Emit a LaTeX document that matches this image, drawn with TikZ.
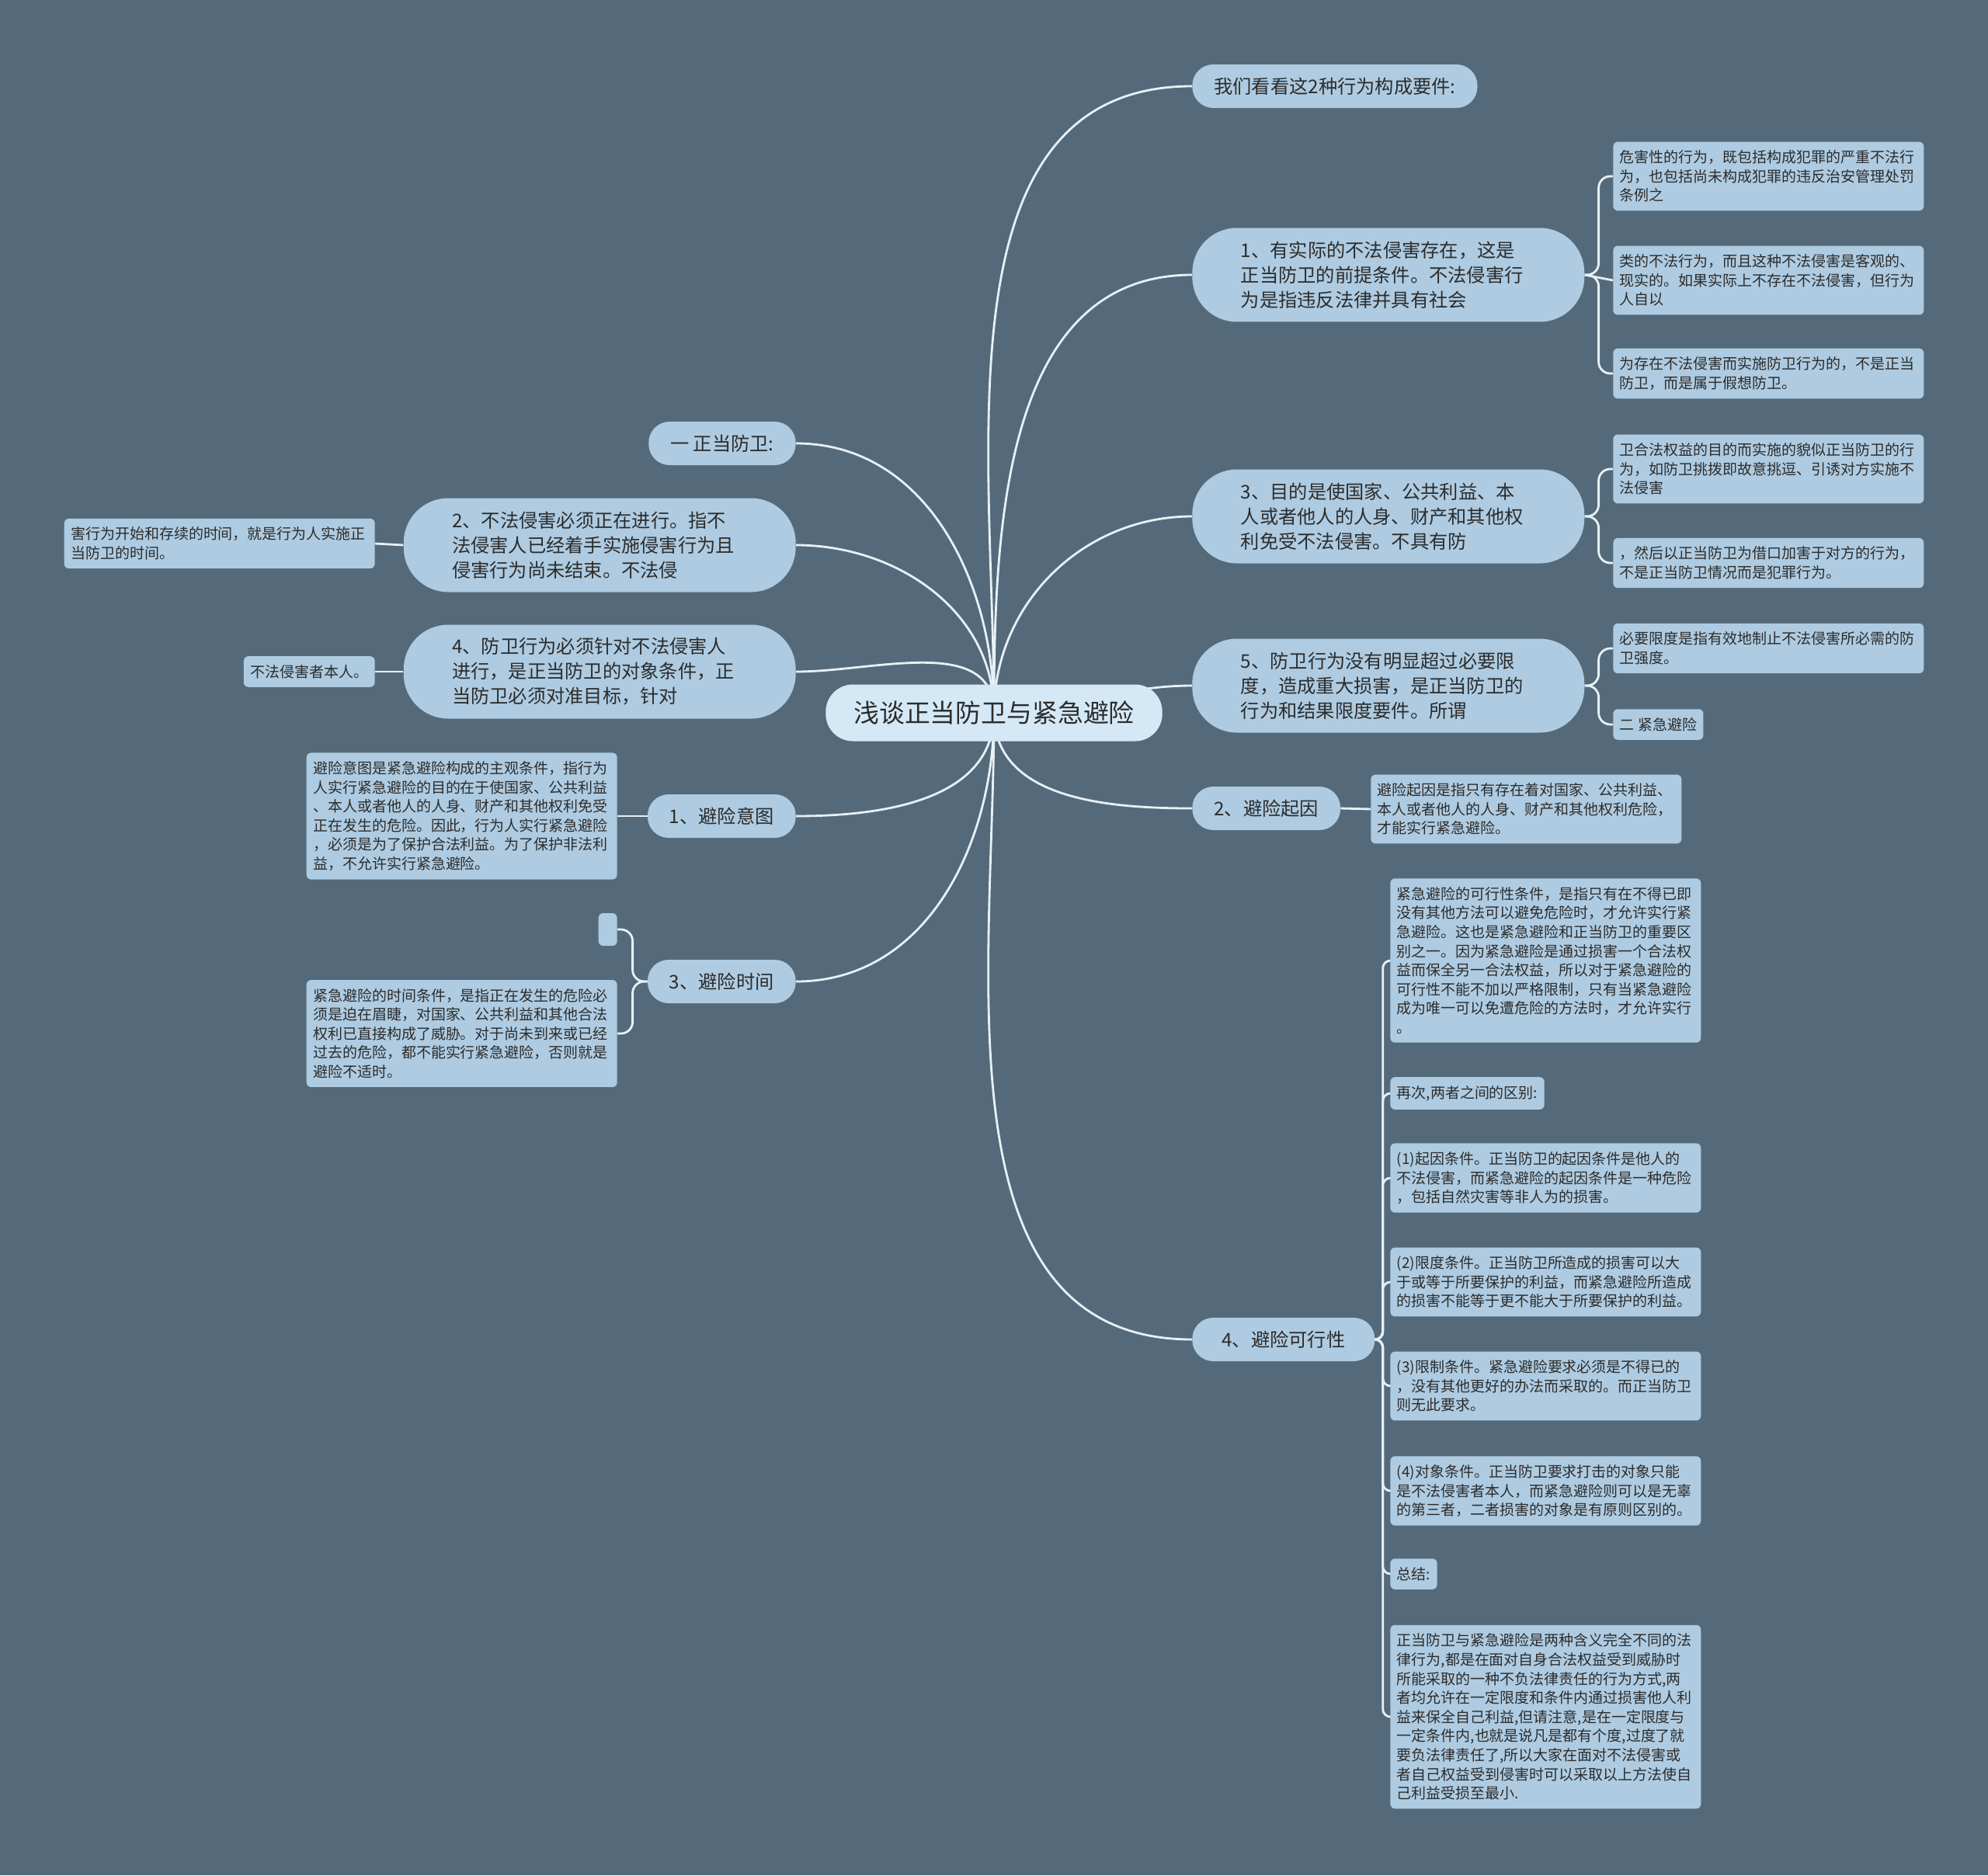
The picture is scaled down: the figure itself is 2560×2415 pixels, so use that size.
\documentclass[tikz,border=0pt]{standalone}
\usepackage{fontspec}
\setmainfont{Noto Sans CJK SC}
\usetikzlibrary{backgrounds}
\definecolor{MapBg}{HTML}{546A7A}
\definecolor{NodeBlue}{HTML}{AECBE1}
\definecolor{RootBlue}{HTML}{D4E9F5}
\definecolor{LinkWhite}{HTML}{E6F0F6}
\definecolor{InkGray}{HTML}{2C2C2C}

\begin{document}
\begin{tikzpicture}[x=0.02cm,y=-0.02cm,
    rootnode/.style={fill=RootBlue, rounded corners=0.7cm, minimum height=1.46cm, inner xsep=0.72cm, text=InkGray, font=\fontsize{18.7}{22}\selectfont},
    topic/.style={fill=NodeBlue, rounded corners=0.54cm, minimum height=1.12cm, inner xsep=0.56cm, text=InkGray, font=\fontsize{13.8}{18}\selectfont},
    bigtopic/.style={fill=NodeBlue, rounded corners=1.15cm, minimum height=2.42cm, text width=7.6cm, inner xsep=1.25cm, align=left, text=InkGray, font=\fontsize{13.8}{18.2}\selectfont},
    tag/.style={fill=NodeBlue, rounded corners=0.12cm, inner xsep=0.17cm, inner ysep=0.22cm, text=InkGray, font=\fontsize{10.8}{14}\selectfont},
    leaf/.style={tag, text width=7.66cm, align=left},
    link/.style={draw=LinkWhite, line width=1.6pt},
    twig/.style={link, rounded corners=0.3cm}]
    \useasboundingbox (0,0) rectangle (2560,2415);
    % centre
    \node[rootnode] (root) at (1280,918) {浅谈正当防卫与紧急避险};
    % right side
    \node[topic, anchor=west] (yj) at (1535,111) {我们看看这2种行为构成要件:};
    \node[bigtopic, anchor=west] (fw1) at (1535,354) {1、有实际的不法侵害存在，这是\\正当防卫的前提条件。不法侵害行\\为是指违反法律并具有社会};
    \node[bigtopic, anchor=west] (fw3) at (1535,665) {3、目的是使国家、公共利益、本\\人或者他人的人身、财产和其他权\\利免受不法侵害。不具有防};
    \node[bigtopic, anchor=west] (fw5) at (1535,883) {5、防卫行为没有明显超过必要限\\度，造成重大损害，是正当防卫的\\行为和结果限度要件。所谓};
    \node[topic, anchor=west] (bx2) at (1535,1041) {2、避险起因};
    \node[topic, anchor=west, minimum width=4.7cm] (bx4) at (1535,1725) {4、避险可行性};
    % left side
    \node[topic, anchor=east] (zd) at (1025,571) {一 正当防卫:};
    \node[bigtopic, anchor=east] (fw2) at (1025,702) {2、不法侵害必须正在进行。指不\\法侵害人已经着手实施侵害行为且\\侵害行为尚未结束。不法侵};
    \node[bigtopic, anchor=east] (fw4) at (1025,865) {4、防卫行为必须针对不法侵害人\\进行，是正当防卫的对象条件，正\\当防卫必须对准目标，针对};
    \node[topic, anchor=east] (bx1) at (1025,1051) {1、避险意图};
    \node[topic, anchor=east] (bx3) at (1025,1264) {3、避险时间};
    % leaves, right
    \node[leaf, anchor=west] (fw1a) at (2077,227) {危害性的行为，既包括构成犯罪的严重不法行\\为，也包括尚未构成犯罪的违反治安管理处罚\\条例之};
    \node[leaf, anchor=west] (fw1b) at (2077,361) {类的不法行为，而且这种不法侵害是客观的、\\现实的。如果实际上不存在不法侵害，但行为\\人自以};
    \node[leaf, anchor=west] (fw1c) at (2077,481) {为存在不法侵害而实施防卫行为的，不是正当\\防卫，而是属于假想防卫。};
    \node[leaf, anchor=west] (fw3a) at (2077,604) {卫合法权益的目的而实施的貌似正当防卫的行\\为，如防卫挑拨即故意挑逗、引诱对方实施不\\法侵害};
    \node[leaf, anchor=west] (fw3b) at (2077,725) {，然后以正当防卫为借口加害于对方的行为，\\不是正当防卫情况而是犯罪行为。};
    \node[leaf, anchor=west] (fw5a) at (2077,835) {必要限度是指有效地制止不法侵害所必需的防\\卫强度。};
    \node[tag, anchor=west] (fw5b) at (2077,933) {二 紧急避险};
    \node[leaf, anchor=west] (bx2a) at (1765,1042) {避险起因是指只有存在着对国家、公共利益、\\本人或者他人的人身、财产和其他权利危险，\\才能实行紧急避险。};
    \node[leaf, anchor=west] (bx4a) at (1790,1237) {紧急避险的可行性条件，是指只有在不得已即\\没有其他方法可以避免危险时，才允许实行紧\\急避险。这也是紧急避险和正当防卫的重要区\\别之一。因为紧急避险是通过损害一个合法权\\益而保全另一合法权益，所以对于紧急避险的\\可行性不能不加以严格限制，只有当紧急避险\\成为唯一可以免遭危险的方法时，才允许实行\\。};
    \node[tag, anchor=west] (bx4b) at (1790,1408) {再次,两者之间的区别:};
    \node[leaf, anchor=west] (bx4c) at (1790,1517) {(1)起因条件。正当防卫的起因条件是他人的\\不法侵害，而紧急避险的起因条件是一种危险\\，包括自然灾害等非人为的损害。};
    \node[leaf, anchor=west] (bx4d) at (1790,1651) {(2)限度条件。正当防卫所造成的损害可以大\\于或等于所要保护的利益，而紧急避险所造成\\的损害不能等于更不能大于所要保护的利益。};
    \node[leaf, anchor=west] (bx4e) at (1790,1785) {(3)限制条件。紧急避险要求必须是不得已的\\，没有其他更好的办法而采取的。而正当防卫\\则无此要求。};
    \node[leaf, anchor=west] (bx4f) at (1790,1920) {(4)对象条件。正当防卫要求打击的对象只能\\是不法侵害者本人，而紧急避险则可以是无辜\\的第三者，二者损害的对象是有原则区别的。};
    \node[tag, anchor=west] (bx4g) at (1790,2027) {总结:};
    \node[leaf, anchor=west] (bx4h) at (1790,2211) {正当防卫与紧急避险是两种含义完全不同的法\\律行为,都是在面对自身合法权益受到威胁时\\所能采取的一种不负法律责任的行为方式,两\\者均允许在一定限度和条件内通过损害他人利\\益来保全自己利益,但请注意,是在一定限度与\\一定条件内,也就是说凡是都有个度,过度了就\\要负法律责任了,所以大家在面对不法侵害或\\者自己权益受到侵害时可以采取以上方法使自\\己利益受损至最小.};
    % leaves, left
    \node[leaf, anchor=east] (fw2a) at (483,700) {害行为开始和存续的时间，就是行为人实施正\\当防卫的时间。};
    \node[tag, anchor=east] (fw4a) at (483,865) {不法侵害者本人。};
    \node[leaf, anchor=east] (bx1a) at (795,1051) {避险意图是紧急避险构成的主观条件，指行为\\人实行紧急避险的目的在于使国家、公共利益\\、本人或者他人的人身、财产和其他权利免受\\正在发生的危险。因此，行为人实行紧急避险\\，必须是为了保护合法利益。为了保护非法利\\益，不允许实行紧急避险。};
    \node[tag, anchor=east, minimum width=0.48cm, minimum height=0.84cm, inner sep=0pt] (bx3a) at (795,1197) {};
    \node[leaf, anchor=east] (bx3b) at (795,1331) {紧急避险的时间条件，是指正在发生的危险必\\须是迫在眉睫，对国家、公共利益和其他合法\\权利已直接构成了威胁。对于尚未到来或已经\\过去的危险，都不能实行紧急避险，否则就是\\避险不适时。};
    \begin{scope}[on background layer]
        \fill[MapBg] (0,0) rectangle (2560,2415);
        % main branches
        \foreach \n in {yj,fw1,fw3}
            \draw[link] (root.center) to[out=90,in=180] (\n.west);
        \draw[link] (root.center) to[out=0,in=180] (fw5.west);
        \foreach \n in {bx2,bx4}
            \draw[link] (root.center) to[out=-90,in=180] (\n.west);
        \foreach \n in {zd,fw2,fw4}
            \draw[link] (root.center) to[out=90,in=0] (\n.east);
        \foreach \n in {bx1,bx3}
            \draw[link] (root.center) to[out=-90,in=0] (\n.east);
        % sub branches
        \foreach \n in {fw1a,fw1c}
            \draw[twig] (fw1.east) -- ++(18,0) |- (\n.west);
        \draw[link] (fw1.east) -- (fw1b.west);
        \foreach \n in {fw3a,fw3b}
            \draw[twig] (fw3.east) -- ++(18,0) |- (\n.west);
        \foreach \n in {fw5a,fw5b}
            \draw[twig] (fw5.east) -- ++(18,0) |- (\n.west);
        \draw[link] (bx2.east) -- (bx2a.west);
        \foreach \n in {bx4a,bx4b,bx4c,bx4d,bx4e,bx4f,bx4g,bx4h}
            \draw[link, rounded corners=0.2cm] (bx4.east) -- ++(10,0) |- (\n.west);
        \draw[link] (fw2.west) -- (fw2a.east);
        \draw[link] (fw4.west) -- (fw4a.east);
        \draw[link] (bx1.west) -- (bx1a.east);
        \foreach \n in {bx3a,bx3b}
            \draw[twig] (bx3.west) -- ++(-19,0) |- (\n.east);
    \end{scope}
\end{tikzpicture}
\end{document}
